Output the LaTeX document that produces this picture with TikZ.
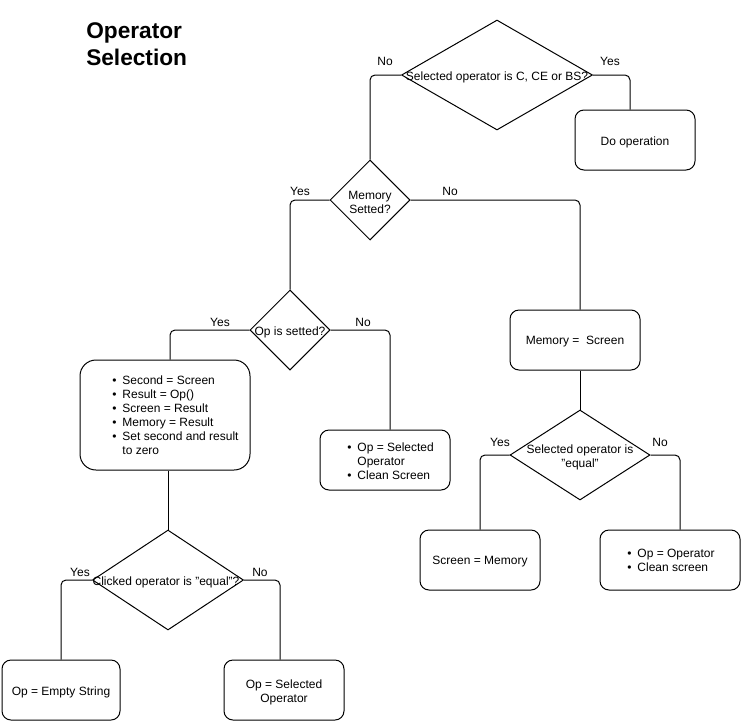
\documentclass[tikz,border=0pt]{standalone}
\usepackage{fontspec}
\setmainfont{Liberation Sans}
\usetikzlibrary{shapes.geometric}
\newdimen\pxu \pxu=0.75pt
\begin{document}
\begin{tikzpicture}[x=0.75pt,y=-0.75pt,
  every node/.style={font=\fontsize{9}{10.5}\selectfont, text=black},
  decision/.style={diamond, draw=black, line width=0.75pt, inner sep=0pt},
  stepbox/.style={rectangle, draw=black, line width=0.75pt, rounded corners=9\pxu, inner sep=0pt},
  txt/.style={inner sep=0pt, align=center, yshift=-2\pxu},
  lbl/.style={inner sep=0pt, yshift=-1.5\pxu},
  conn/.style={draw=black, line width=0.75pt, rounded corners=5\pxu},
  blist/.style={inner sep=0pt, anchor=west, yshift=-2\pxu}
]
\useasboundingbox (0,0) rectangle (741,721);

% title
\node[anchor=north west, inner sep=0pt, align=left,
      font=\fontsize{17}{20.25}\selectfont\bfseries] (title) at (86,22) {Operator\\Selection};

% decisions
\node[decision, minimum width=191\pxu, minimum height=110\pxu] (d1) at (497,75) {};
\node[txt] (d1t) at (497,75) {Selected operator is C, CE or BS?};
\node[decision, minimum width=80\pxu, minimum height=80\pxu] (d2) at (370,200) {};
\node[txt] (d2t) at (370,200) {Memory\\Setted?};
\node[decision, minimum width=80\pxu, minimum height=80\pxu] (d3) at (290,330) {};
\node[txt] (d3t) at (290,330) {Op is setted?};
\node[decision, minimum width=151\pxu, minimum height=100\pxu] (d4) at (168,580) {};
\node[txt] (d4t) at (166,580) {Clicked operator is "equal"?};
\node[decision, minimum width=140\pxu, minimum height=90\pxu] (d5) at (580,455) {};
\node[txt] (d5t) at (580,455) {Selected operator is\\"equal"};

% boxes
\node[stepbox, minimum width=120\pxu, minimum height=60\pxu] (do) at (635,140) {};
\node[txt] (dot) at (635,140) {Do operation};
\node[stepbox, minimum width=130\pxu, minimum height=60\pxu] (ms) at (575,340) {};
\node[txt] (mst) at (575,340) {Memory =~~Screen};
\node[stepbox, rounded corners=16\pxu, minimum width=170\pxu, minimum height=110\pxu] (lb) at (165,415) {};
\node[blist] (lbt) at (112,415) {\begin{tabular}{@{}l@{\hspace{4.5pt}}l@{}}
\textbullet & Second = Screen\\
\textbullet & Result = Op()\\
\textbullet & Screen = Result\\
\textbullet & Memory = Result\\
\textbullet & Set second and result\\
 & to zero
\end{tabular}};
\node[stepbox, minimum width=130\pxu, minimum height=60\pxu] (rb) at (385,460) {};
\node[blist] (rbt) at (347,461) {\begin{tabular}{@{}l@{\hspace{4.5pt}}l@{}}
\textbullet & Op = Selected\\
 & Operator\\
\textbullet & Clean Screen
\end{tabular}};
\node[stepbox, minimum width=118\pxu, minimum height=60\pxu] (eb) at (61,690) {};
\node[txt] (ebt) at (61,690) {Op = Empty String};
\node[stepbox, minimum width=120\pxu, minimum height=60\pxu] (sb) at (284,690) {};
\node[txt] (sbt) at (284,690) {Op = Selected\\Operator};
\node[stepbox, minimum width=120\pxu, minimum height=60\pxu] (smb) at (480,560) {};
\node[txt] (smbt) at (480,560) {Screen = Memory};
\node[stepbox, minimum width=140\pxu, minimum height=60\pxu] (ob) at (670,560) {};
\node[blist] (obt) at (627,560) {\begin{tabular}{@{}l@{\hspace{4.5pt}}l@{}}
\textbullet & Op = Operator\\
\textbullet & Clean screen
\end{tabular}};

% connectors
\draw[conn] (d1.west) -| (d2.north);
\draw[conn] (d1.east) -| ([xshift=-5\pxu]do.north);
\draw[conn] (d2.west) -| (d3.north);
\draw[conn] (d2.east) -| ([xshift=5\pxu]ms.north);
\draw[conn] (d3.west) -| ([xshift=5\pxu]lb.north);
\draw[conn] (d3.east) -| ([xshift=5\pxu]rb.north);
\draw[conn] ([xshift=3\pxu]lb.south) -- (d4.north);
\draw[conn] (d4.west) -| (eb.north);
\draw[conn] (d4.east) -| ([xshift=-4\pxu]sb.north);
\draw[conn] ([xshift=5\pxu]ms.south) -- (d5.north);
\draw[conn] (d5.west) -| (smb.north);
\draw[conn] (d5.east) -| ([xshift=10\pxu]ob.north);

% labels
\node[lbl] (l1n) at (385,60) {No};
\node[lbl] (l1y) at (610,60) {Yes};
\node[lbl] (l2y) at (300,190) {Yes};
\node[lbl] (l2n) at (450,190) {No};
\node[lbl] (l3y) at (220,321) {Yes};
\node[lbl] (l3n) at (363,321) {No};
\node[lbl] (l4y) at (80,571) {Yes};
\node[lbl] (l4n) at (260,571) {No};
\node[lbl] (l5y) at (500,441) {Yes};
\node[lbl] (l5n) at (660,441) {No};
\end{tikzpicture}
\end{document}
